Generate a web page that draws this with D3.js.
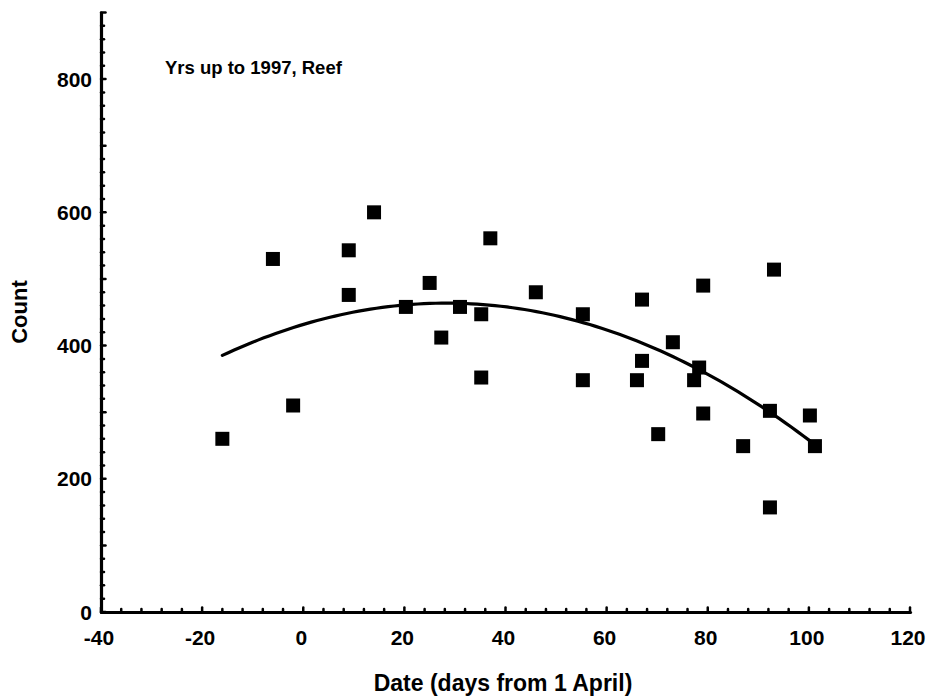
<!DOCTYPE html>
<html>
<head>
<meta charset="utf-8">
<script src="https://cdn.jsdelivr.net/npm/d3@7"></script>
<style>
  body { margin: 0; background: #fff; }
  svg { display: block; }
  text { font-family: "Liberation Sans", Arial, sans-serif; font-weight: bold; fill: #000; }
</style>
</head>
<body>
<div id="chart"></div>
<script>
// ---- data ----
const days   = [-16, -6, -2, 9, 9, 14, 20.3, 25, 27.3, 31, 35.2, 35.2, 37, 46, 55.3, 55.3, 66, 67, 67, 70.2, 73.1, 77.3, 78.3, 79.1, 79.1, 87, 92.3, 92.3, 93.1, 100.2, 101.2];
const counts = [260, 530, 310, 543, 476, 600, 458, 494, 412, 458, 447, 352, 561, 480, 447, 348, 348, 469, 377, 267, 405, 348, 367, 490, 298, 249, 302, 157, 514, 295, 249];
const xTickLabels = [-40, -20, 0, 20, 40, 60, 80, 100, 120];
const yTickLabels = [0, 200, 400, 600, 800];
const xTitle = "Date (days from 1 April)";
const yTitle = "Count";
const note = "Yrs up to 1997, Reef";

// ---- layout ----
const W = 937, H = 698;
const svg = d3.select("#chart").append("svg").attr("width", W).attr("height", H);

const x = d3.scaleLinear().domain([-40, 120]).range([101, 910]);
const y = d3.scaleLinear().domain([0, 900]).range([612, 12.5]);

// quadratic least-squares fit of counts on days
function quadFit(xs, ys) {
  let n = xs.length, s = [0,0,0,0,0], t = [0,0,0];
  for (let i = 0; i < n; i++) {
    const xi = xs[i], yi = ys[i];
    let p = 1;
    for (let k = 0; k < 5; k++) { s[k] += p; if (k < 3) t[k] += p * yi; p *= xi; }
  }
  const A = [[s[0], s[1], s[2], t[0]], [s[1], s[2], s[3], t[1]], [s[2], s[3], s[4], t[2]]];
  for (let i = 0; i < 3; i++) {
    for (let j = i + 1; j < 3; j++) {
      const f = A[j][i] / A[i][i];
      for (let k = i; k < 4; k++) A[j][k] -= f * A[i][k];
    }
  }
  const c = [0,0,0];
  for (let i = 2; i >= 0; i--) {
    let v = A[i][3];
    for (let k = i + 1; k < 3; k++) v -= A[i][k] * c[k];
    c[i] = v / A[i][i];
  }
  return c;
}
const coef = quadFit(days, counts);
const xmin = d3.min(days), xmax = d3.max(days);
const curvePts = d3.range(0, 101).map(i => {
  const xv = xmin + (xmax - xmin) * i / 100;
  return [xv, coef[0] + coef[1] * xv + coef[2] * xv * xv];
});

svg.append("path")
  .datum(curvePts)
  .attr("fill", "none").attr("stroke", "#000").attr("stroke-width", 3.2)
  .attr("stroke-linecap", "round")
  .attr("d", d3.line().x(d => x(d[0])).y(d => y(d[1])));

// markers
const ms = 14;
svg.append("g").selectAll("rect")
  .data(days.map((d, i) => [d, counts[i]]))
  .join("rect")
  .attr("x", d => x(d[0]) - ms / 2)
  .attr("y", d => y(d[1]) - ms / 2)
  .attr("width", ms).attr("height", ms)
  .attr("fill", "#000");

// ---- axes ----
const axG = svg.append("g");
// y axis
const yAxis = d3.axisRight(y).tickValues(d3.range(0, 901, 20)).tickSize(0).tickFormat("");
axG.append("g").attr("transform", `translate(${x(-40)},0)`).call(yAxis)
  .call(g => g.select(".domain").attr("stroke-width", 3.2).attr("stroke-linecap", "round"));
axG.append("g").selectAll("line")
  .data(d3.range(0, 901, 20))
  .join("line")
  .attr("x1", x(-40)).attr("x2", d => x(-40) + (d % 100 === 0 ? 4.5 : 3))
  .attr("y1", d => y(d)).attr("y2", d => y(d))
  .attr("stroke", "#000").attr("stroke-width", 2.5).attr("stroke-linecap", "round");
// x axis
const xAxis = d3.axisTop(x).tickValues(d3.range(-40, 121, 4)).tickSize(0).tickFormat("");
axG.append("g").attr("transform", `translate(0,${y(0)})`).call(xAxis)
  .call(g => g.select(".domain").attr("stroke-width", 3.2).attr("stroke-linecap", "round"));
axG.append("g").selectAll("line")
  .data(d3.range(-40, 121, 4))
  .join("line")
  .attr("y1", y(0)).attr("y2", d => y(0) - (d % 20 === 0 ? 4.5 : 3))
  .attr("x1", d => x(d)).attr("x2", d => x(d))
  .attr("stroke", "#000").attr("stroke-width", 2.5).attr("stroke-linecap", "round");

// tick labels
svg.append("g").selectAll("text")
  .data(yTickLabels).join("text")
  .attr("x", 92).attr("y", d => y(d)).attr("dy", "0.36em")
  .attr("text-anchor", "end").attr("font-size", 21)
  .text(d => d);
svg.append("g").selectAll("text")
  .data(xTickLabels).join("text")
  .attr("x", d => x(d) - 2).attr("y", 645)
  .attr("text-anchor", "middle").attr("font-size", 21)
  .text(d => d);

// titles
svg.append("text").attr("x", 503).attr("y", 691).attr("text-anchor", "middle")
  .attr("font-size", 23).text(xTitle);
svg.append("text").attr("transform", "translate(27,312) rotate(-90)")
  .attr("text-anchor", "middle").attr("font-size", 22).text(yTitle);
svg.append("text").attr("x", 165).attr("y", 74).attr("font-size", 18.5).text(note);
</script>
</body>
</html>
